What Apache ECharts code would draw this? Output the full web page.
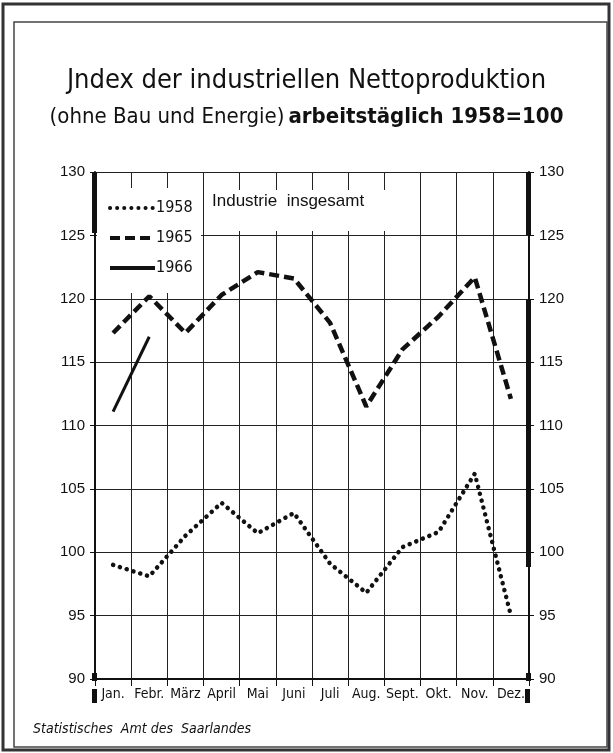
<!DOCTYPE html>
<html>
<head>
<meta charset="utf-8">
<script src="https://cdn.jsdelivr.net/npm/echarts@6/dist/echarts.min.js"></script>
<style>
  html, body { margin: 0; padding: 0; background: #fff; }
  #chart { width: 613px; height: 753px; }
</style>
</head>
<body>
<div id="chart"></div>
<script>
// Monate und Werte
const months = ["Jan.", "Febr.", "März", "April", "Mai", "Juni", "Juli", "Aug.", "Sept.", "Okt.", "Nov.", "Dez."];
const yTicks = [90, 95, 100, 105, 110, 115, 120, 125, 130];
const v1958 = [99.0, 98.1, 101.3, 103.9, 101.5, 103.1, 99.1, 96.8, 100.4, 101.6, 106.2, 95.0];
const v1965 = [117.3, 120.2, 117.3, 120.3, 122.1, 121.6, 118.1, 111.5, 116.0, 118.6, 121.7, 112.1];
const v1966 = [111.1, 117.0];

const font = "'DejaVu Sans Condensed', 'Liberation Sans Narrow', sans-serif";
const ink = "#111";

const myChart = echarts.init(document.querySelector("#chart"));

const option = {
  backgroundColor: "#fff",
  animation: false,
  title: {
    text: "Jndex der industriellen Nettoproduktion",
    subtext: "{a|(ohne Bau und Energie)}{b|arbeitstäglich 1958=100}",
    left: "center",
    top: 62,
    itemGap: 12,
    textStyle: { fontFamily: font, fontSize: 27, fontWeight: "normal", color: ink },
    subtextStyle: {
      rich: {
        a: { fontFamily: font, fontSize: 22, color: ink },
        b: { fontFamily: font, fontSize: 22, fontWeight: "bold", color: ink, padding: [0, 0, 0, 4] },
      },
    },
  },
  legend: {
    orient: "vertical",
    left: 103,
    top: 195,
    itemWidth: 45,
    itemHeight: 14,
    itemGap: 14,
    itemStyle: { opacity: 0 },
    lineStyle: { width: 4 },
    textStyle: { fontFamily: font, fontSize: 16, color: ink, padding: [0, 0, 0, -4] },
    data: ["1958", "1965", "1966"],
    z: 20,
  },
  grid: { left: 95, right: 84, top: 172, bottom: 74 },
  xAxis: {
    type: "category",
    data: months,
    boundaryGap: true,
    axisLine: { lineStyle: { color: ink, width: 2 } },
    axisTick: { show: true, length: 7, lineStyle: { color: ink } },
    axisLabel: { interval: 0, fontFamily: font, fontSize: 14, color: ink, margin: 8 },
    splitLine: { show: true, lineStyle: { color: "#222", width: 1 } },
  },
  yAxis: [
    {
      type: "value",
      min: yTicks[0],
      max: yTicks[yTicks.length - 1],
      interval: 5,
      position: "left",
      axisLine: { show: true, lineStyle: { color: ink, width: 2 } },
      axisTick: { show: true, length: 5, lineStyle: { color: ink } },
      axisLabel: { fontFamily: "'Liberation Sans', sans-serif", fontSize: 15, color: ink, margin: 10 },
      splitLine: { show: true, lineStyle: { color: "#222", width: 1 } },
    },
    {
      type: "value",
      min: yTicks[0],
      max: yTicks[yTicks.length - 1],
      interval: 5,
      position: "right",
      axisLine: { show: true, lineStyle: { color: ink, width: 2 } },
      axisTick: { show: true, length: 5, lineStyle: { color: ink } },
      axisLabel: { fontFamily: "'Liberation Sans', sans-serif", fontSize: 15, color: ink, margin: 10 },
      splitLine: { show: false },
    },
  ],
  series: [
    {
      name: "1958",
      type: "line",
      data: v1958,
      symbol: "none",
      lineStyle: { color: ink, width: 4.5, type: [0.1, 7], cap: "round" },
      itemStyle: { color: ink },
      z: 10,
    },
    {
      name: "1965",
      type: "line",
      data: v1965,
      symbol: "none",
      lineStyle: { color: ink, width: 4.5, type: [10, 5] },
      itemStyle: { color: ink },
      z: 10,
    },
    {
      name: "1966",
      type: "line",
      data: v1966,
      symbol: "none",
      lineStyle: { color: ink, width: 3 },
      itemStyle: { color: ink },
      z: 10,
    },
  ],
  graphic: [
    // Rahmen
    { type: "rect", shape: { x: 3, y: 4, width: 606, height: 746 }, style: { fill: "none", stroke: "#333", lineWidth: 3 }, z: 1 },
    { type: "rect", shape: { x: 14, y: 22, width: 593, height: 725 }, style: { fill: "none", stroke: "#444", lineWidth: 1.5 }, z: 1 },
    // Legendenfeld und Beschriftungsfeld
    { type: "rect", shape: { x: 97, y: 188, width: 104, height: 105 }, style: { fill: "#fff" }, z: 5 },
    { type: "rect", shape: { x: 206, y: 190, width: 206, height: 41 }, style: { fill: "#fff" }, z: 5 },
    {
      type: "text",
      left: 212,
      top: 193,
      style: { text: "Industrie  insgesamt", fontFamily: "'Liberation Sans', sans-serif", fontSize: 17, fill: ink },
      z: 20,
    },
    // dicke Achsenstücke
    { type: "rect", shape: { x: 92, y: 172, width: 5, height: 61 }, style: { fill: ink }, z: 6 },
    { type: "rect", shape: { x: 526, y: 172, width: 5, height: 63 }, style: { fill: ink }, z: 6 },
    { type: "rect", shape: { x: 526, y: 300, width: 5, height: 267 }, style: { fill: ink }, z: 6 },
    { type: "rect", shape: { x: 92, y: 673, width: 5, height: 8 }, style: { fill: ink }, z: 6 },
    { type: "rect", shape: { x: 526, y: 673, width: 5, height: 8 }, style: { fill: ink }, z: 6 },
    { type: "rect", shape: { x: 92, y: 689, width: 5, height: 14 }, style: { fill: ink }, z: 6 },
    { type: "rect", shape: { x: 525, y: 689, width: 5, height: 14 }, style: { fill: ink }, z: 6 },
    // Quelle
    {
      type: "text",
      left: 33,
      top: 722,
      style: { text: "Statistisches  Amt des  Saarlandes", fontFamily: font, fontSize: 14, fontStyle: "italic", fill: ink },
      z: 20,
    },
  ],
};

myChart.setOption(option);
window.addEventListener("resize", () => {
  myChart.resize();
});
</script>
</body>
</html>
